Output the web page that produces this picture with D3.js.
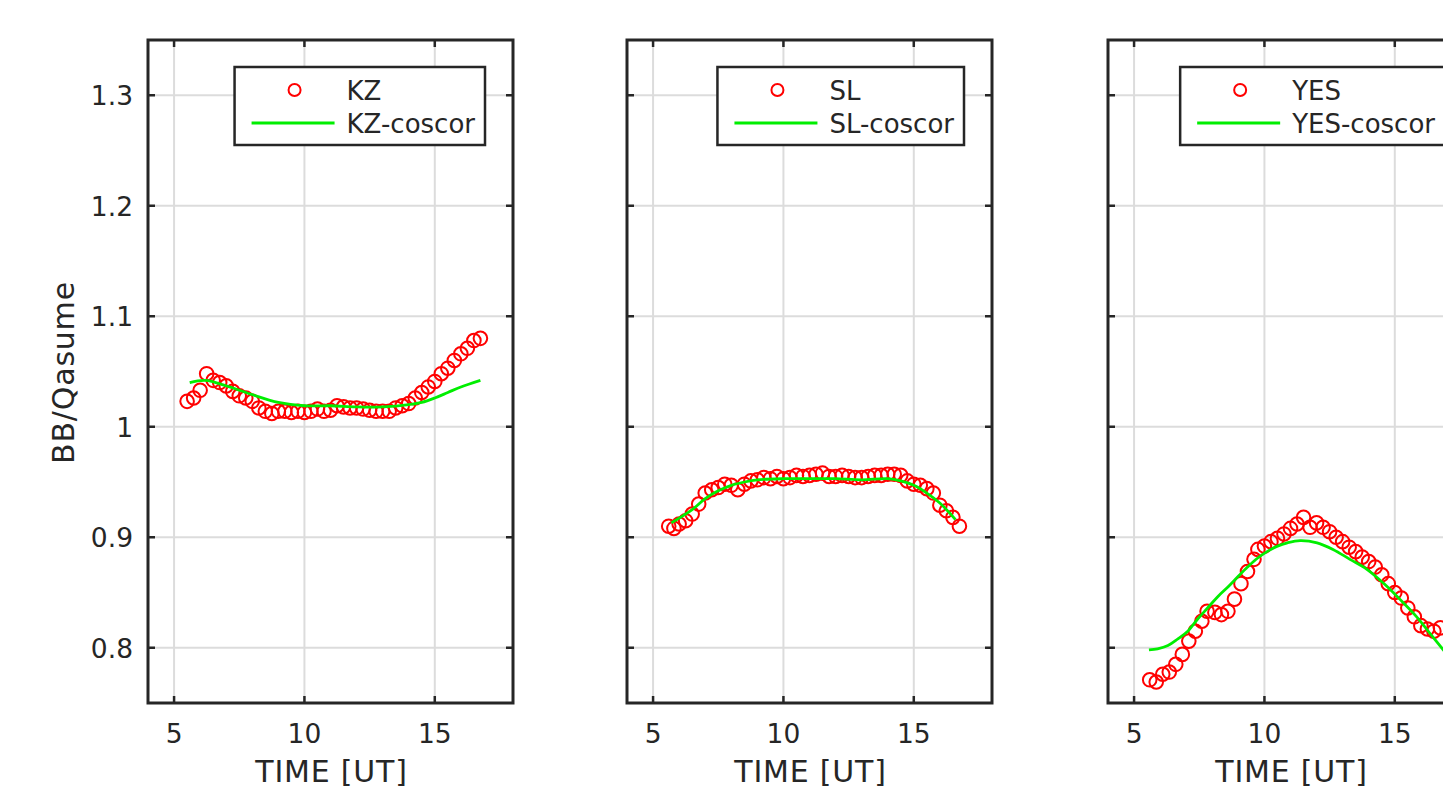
<!DOCTYPE html>
<html>
<head>
<meta charset="utf-8">
<script src="https://cdn.jsdelivr.net/npm/d3@7"></script>
<style>
  body { margin: 0; background: #fff; overflow: hidden; }
  svg { display: block; font-family: "DejaVu Sans", sans-serif; }
</style>
</head>
<body>
<svg id="chart" width="1443" height="788"></svg>
<script>
// measured points (time in UT, ratio BB/Qasume)
const kzTime = [5.5, 5.75, 6.0, 6.25, 6.5, 6.75, 7.0, 7.25, 7.5, 7.75, 8.0, 8.25, 8.5, 8.75, 9.0, 9.25, 9.5, 9.75, 10.0, 10.25, 10.5, 10.75, 11.0, 11.25, 11.5, 11.75, 12.0, 12.25, 12.5, 12.75, 13.0, 13.25, 13.5, 13.75, 14.0, 14.25, 14.5, 14.75, 15.0, 15.25, 15.5, 15.75, 16.0, 16.25, 16.5, 16.75]
const kzValue = [1.023, 1.026, 1.033, 1.048, 1.042, 1.040, 1.037, 1.032, 1.028, 1.026, 1.023, 1.017, 1.014, 1.012, 1.014, 1.014, 1.013, 1.014, 1.013, 1.014, 1.016, 1.014, 1.015, 1.019, 1.018, 1.017, 1.017, 1.016, 1.015, 1.014, 1.014, 1.014, 1.017, 1.019, 1.021, 1.026, 1.031, 1.036, 1.041, 1.048, 1.053, 1.060, 1.066, 1.071, 1.078, 1.080]
const kzFitTime = [5.6, 6.2, 7.0, 8.0, 9.0, 10.0, 11.0, 12.0, 13.0, 14.0, 14.5, 15.0, 15.5, 16.0, 16.75]
const kzFitValue = [1.040, 1.042, 1.037, 1.029, 1.022, 1.019, 1.019, 1.018, 1.018, 1.020, 1.022, 1.026, 1.031, 1.036, 1.042]

const slTime = [5.6, 5.8, 6.0, 6.25, 6.5, 6.75, 7.0, 7.25, 7.5, 7.75, 8.0, 8.25, 8.5, 8.75, 9.0, 9.25, 9.5, 9.75, 10.0, 10.25, 10.5, 10.75, 11.0, 11.25, 11.5, 11.75, 12.0, 12.25, 12.5, 12.75, 13.0, 13.25, 13.5, 13.75, 14.0, 14.25, 14.5, 14.75, 15.0, 15.25, 15.5, 15.75, 16.0, 16.25, 16.5, 16.75]
const slValue = [0.910, 0.908, 0.912, 0.915, 0.921, 0.930, 0.940, 0.943, 0.945, 0.948, 0.947, 0.943, 0.948, 0.951, 0.952, 0.954, 0.953, 0.955, 0.953, 0.954, 0.956, 0.955, 0.956, 0.957, 0.958, 0.955, 0.955, 0.956, 0.955, 0.954, 0.954, 0.955, 0.956, 0.956, 0.957, 0.957, 0.956, 0.951, 0.948, 0.947, 0.944, 0.940, 0.929, 0.924, 0.918, 0.910]
const slFitTime = [5.7, 6.5, 7.0, 7.5, 8.0, 8.5, 9.0, 10.0, 11.0, 12.0, 13.0, 14.0, 14.5, 15.0, 15.5, 16.0, 16.6]
const slFitValue = [0.913, 0.925, 0.935, 0.942, 0.947, 0.950, 0.952, 0.953, 0.953, 0.953, 0.952, 0.953, 0.951, 0.947, 0.940, 0.931, 0.916]

const yesTime = [5.6, 5.85, 6.1, 6.35, 6.6, 6.85, 7.1, 7.35, 7.6, 7.8, 8.1, 8.35, 8.6, 8.85, 9.1, 9.35, 9.6, 9.75, 10.0, 10.25, 10.5, 10.75, 11.0, 11.25, 11.5, 11.75, 12.0, 12.25, 12.5, 12.75, 13.0, 13.25, 13.5, 13.75, 14.0, 14.25, 14.5, 14.75, 15.0, 15.25, 15.5, 15.75, 16.0, 16.25, 16.5, 16.75]
const yesValue = [0.771, 0.769, 0.776, 0.778, 0.785, 0.794, 0.806, 0.815, 0.824, 0.833, 0.832, 0.830, 0.833, 0.844, 0.858, 0.869, 0.880, 0.889, 0.892, 0.896, 0.899, 0.903, 0.908, 0.912, 0.918, 0.909, 0.913, 0.909, 0.905, 0.900, 0.896, 0.891, 0.887, 0.882, 0.878, 0.873, 0.866, 0.858, 0.850, 0.845, 0.836, 0.828, 0.820, 0.817, 0.815, 0.818]
const yesFitTime = [5.57, 5.9, 6.3, 6.68, 7.06, 7.44, 7.82, 8.2, 8.6, 8.97, 9.35, 9.73, 10.1, 10.5, 10.88, 11.37, 12.02, 12.63, 13.28, 13.93, 14.54, 15.19, 15.84, 16.45, 16.9]
const yesFitValue = [0.798, 0.799, 0.802, 0.808, 0.815, 0.826, 0.836, 0.846, 0.855, 0.864, 0.873, 0.881, 0.887, 0.892, 0.895, 0.897, 0.895, 0.889, 0.880, 0.871, 0.859, 0.844, 0.828, 0.810, 0.797]

const panelNames = ['KZ', 'SL', 'YES']
const xTicks = [5, 10, 15]
const yTicks = [0.8, 0.9, 1, 1.1, 1.2, 1.3]

const panels = [
  {name: panelNames[0], time: kzTime, value: kzValue, fitTime: kzFitTime, fitValue: kzFitValue, left: 148},
  {name: panelNames[1], time: slTime, value: slValue, fitTime: slFitTime, fitValue: slFitValue, left: 627},
  {name: panelNames[2], time: yesTime, value: yesValue, fitTime: yesFitTime, fitValue: yesFitValue, left: 1108}
]

const svg = d3.select('#chart')
const plotTop = 40, plotBottom = 703, panelWidth = 365
const frameColor = '#262626'
const tickLen = 7

const yScale = d3.scaleLinear().domain([0.75, 1.35]).range([plotBottom, plotTop])

panels.forEach((p, i) => {
  const xScale = d3.scaleLinear().domain([4, 18]).range([p.left, p.left + panelWidth])
  const g = svg.append('g')

  const clipId = 'clip' + i
  svg.append('clipPath').attr('id', clipId)
    .append('rect')
    .attr('x', p.left).attr('y', plotTop)
    .attr('width', panelWidth).attr('height', plotBottom - plotTop)

  // grid
  g.append('g').selectAll('line').data(xTicks).join('line')
    .attr('x1', d => xScale(d)).attr('x2', d => xScale(d))
    .attr('y1', plotTop).attr('y2', plotBottom)
    .attr('stroke', '#dcdcdc').attr('stroke-width', 2)
  g.append('g').selectAll('line').data(yTicks).join('line')
    .attr('x1', p.left).attr('x2', p.left + panelWidth)
    .attr('y1', d => yScale(d)).attr('y2', d => yScale(d))
    .attr('stroke', '#dcdcdc').attr('stroke-width', 2)

  // data
  const plot = g.append('g').attr('clip-path', `url(#${clipId})`)
  const pts = p.time.map((t, k) => ({t: t, v: p.value[k]}))
  plot.selectAll('circle').data(pts).join('circle')
    .attr('cx', d => xScale(d.t))
    .attr('cy', d => yScale(d.v))
    .attr('r', 6.8)
    .attr('fill', 'none')
    .attr('stroke', '#ff0000')
    .attr('stroke-width', 2)

  const fit = p.fitTime.map((t, k) => ({t: t, v: p.fitValue[k]}))
  plot.append('path')
    .datum(fit)
    .attr('fill', 'none')
    .attr('stroke', '#00ee00')
    .attr('stroke-width', 2.8)
    .attr('d', d3.line().x(d => xScale(d.t)).y(d => yScale(d.v)).curve(d3.curveCatmullRom))

  // ticks on all four sides
  const ticks = g.append('g').attr('stroke', frameColor).attr('stroke-width', 2.5)
  xTicks.forEach(t => {
    ticks.append('line').attr('x1', xScale(t)).attr('x2', xScale(t)).attr('y1', plotBottom).attr('y2', plotBottom - tickLen)
    ticks.append('line').attr('x1', xScale(t)).attr('x2', xScale(t)).attr('y1', plotTop).attr('y2', plotTop + tickLen)
  })
  yTicks.forEach(t => {
    ticks.append('line').attr('x1', p.left).attr('x2', p.left + tickLen).attr('y1', yScale(t)).attr('y2', yScale(t))
    ticks.append('line').attr('x1', p.left + panelWidth).attr('x2', p.left + panelWidth - tickLen).attr('y1', yScale(t)).attr('y2', yScale(t))
  })

  // frame
  g.append('rect')
    .attr('x', p.left).attr('y', plotTop)
    .attr('width', panelWidth).attr('height', plotBottom - plotTop)
    .attr('fill', 'none').attr('stroke', frameColor).attr('stroke-width', 3)

  // x tick labels
  g.append('g').selectAll('text').data(xTicks).join('text')
    .attr('x', d => xScale(d)).attr('y', 743)
    .attr('text-anchor', 'middle')
    .attr('font-size', 26.5)
    .attr('fill', frameColor)
    .text(d => d)

  g.append('text')
    .attr('x', p.left + panelWidth / 2 + 1).attr('y', 782)
    .attr('text-anchor', 'middle')
    .attr('font-size', 30)
    .attr('letter-spacing', 0.8)
    .attr('fill', frameColor)
    .text('TIME [UT]')

  if (i === 0) {
    g.append('g').selectAll('text').data(yTicks).join('text')
      .attr('x', 133).attr('y', d => yScale(d) + 10)
      .attr('text-anchor', 'end')
      .attr('font-size', 26.5)
      .attr('fill', frameColor)
      .text(d => d3.format('~g')(d))

    g.append('text')
      .attr('transform', `translate(74, ${(plotTop + plotBottom) / 2 + 1}) rotate(-90)`)
      .attr('text-anchor', 'middle')
      .attr('font-size', 30)
      .attr('letter-spacing', 0.8)
      .attr('fill', frameColor)
      .text('BB/Qasume')
  }

  // legend, anchored to the right side of the panel
  const legend = g.append('g')
  const label1 = legend.append('text').attr('font-size', 26).attr('fill', frameColor).text(p.name)
  const label2 = legend.append('text').attr('font-size', 26).attr('fill', frameColor).text(p.name + '-coscor')
  const textW = label2.node().getComputedTextLength()
  const lgRight = p.left + panelWidth - 28
  const lgLeft = lgRight - (112 + textW + 10)
  label1.attr('x', lgLeft + 112).attr('y', 100)
  label2.attr('x', lgLeft + 112).attr('y', 133)
  legend.insert('rect', 'text')
    .attr('x', lgLeft).attr('y', 67)
    .attr('width', lgRight - lgLeft).attr('height', 78)
    .attr('fill', '#fff').attr('stroke', frameColor).attr('stroke-width', 2.5)
  legend.append('circle')
    .attr('cx', lgLeft + 60).attr('cy', 90).attr('r', 6)
    .attr('fill', 'none').attr('stroke', '#ff0000').attr('stroke-width', 2)
  legend.append('line')
    .attr('x1', lgLeft + 17).attr('x2', lgLeft + 100)
    .attr('y1', 123).attr('y2', 123)
    .attr('stroke', '#00ee00').attr('stroke-width', 2.8)
})
</script>
</body>
</html>
